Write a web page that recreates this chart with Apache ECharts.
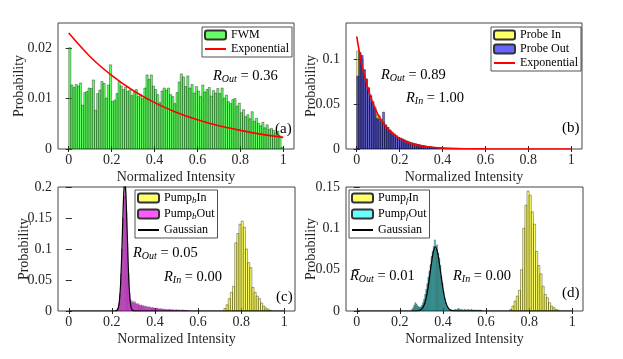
<!DOCTYPE html>
<html>
<head>
<meta charset="utf-8">
<script src="https://cdn.jsdelivr.net/npm/echarts@6/dist/echarts.min.js"></script>
<style>
    html, body { margin: 0; padding: 0; background: #fff; }
    #main { width: 623px; height: 359px; }
</style>
</head>
<body>
<div id="main"></div>
<script>
    var font = 'Liberation Serif';
    var ink = '#262626';

    // (a) FWM histogram, bins of 0.01 starting at 0
    var fwmStart = 0, fwmWidth = 0.01;
    var fwm = [0.0201,0.0127,0.0122,0.0128,0.0125,0.0131,0.0087,0.0112,0.0114,0.0121,
               0.0120,0.0137,0.0077,0.0110,0.0117,0.0134,0.0130,0.0101,0.0127,0.0167,
               0.0094,0.0097,0.0110,0.0134,0.0125,0.0118,0.0123,0.0114,0.0117,0.0106,
               0.0112,0.0118,0.0104,0.0108,0.0100,0.0121,0.0147,0.0138,0.0147,0.0125,
               0.0118,0.0108,0.0092,0.0115,0.0121,0.0117,0.0121,0.0108,0.0104,0.0090,
               0.0112,0.0133,0.0149,0.0143,0.0124,0.0145,0.0121,0.0128,0.0111,0.0124,
               0.0115,0.0104,0.0127,0.0113,0.0118,0.0122,0.0105,0.0116,0.0111,0.0120,
               0.0110,0.0121,0.0101,0.0107,0.0094,0.0090,0.0098,0.0100,0.0085,0.0091,
               0.0072,0.0078,0.0064,0.0068,0.0060,0.0074,0.0055,0.0061,0.0051,0.0046,
               0.0053,0.0042,0.0048,0.0039,0.0041,0.0037,0.0032,0.0035,0.0026,0.0003];
    var expAx = [0, 0.1, 0.2, 0.3, 0.4, 0.5, 0.6, 0.7, 0.8, 0.9, 1];
    var expAy = [0.0230,0.0183,0.0146,0.0116,0.0092,0.0073,0.0058,0.0046,0.0037,0.0029,0.0023];

    // (b) probe histograms, bins of 0.01 starting at 0
    var probeStart = 0, probeWidth = 0.01;
    var probeIn = [0.109,0.107,0.100,0.088,0.077,0.068,0.060,0.053,0.047,0.038,
                   0.037,0.033,0.030,0.026,0.024,0.021,0.019,0.017,0.015,0.013,
                   0.012,0.011,0.010,0.009,0.008,0.007,0.0065,0.006,0.005,0.0045,
                   0.004,0.0035,0.003,0.0027,0.0024,0.002,0.0018,0.0016,0.0014,0.0012,
                   0.001,0.0009,0.0008,0.0007,0.0006,0.0005,0.0004,0.0003,0.0002,0.0001];
    var probeOut = [0.081,0.107,0.104,0.088,0.078,0.068,0.059,0.052,0.045,0.034,
                    0.033,0.030,0.041,0.027,0.024,0.021,0.018,0.016,0.014,0.013,
                    0.012,0.011,0.0095,0.0085,0.0075,0.0068,0.006,0.0055,0.005,0.0045,
                    0.004,0.0035,0.003,0.0027,0.0024,0.002,0.0018,0.0016,0.0014,0.0012,
                    0.001,0.0009,0.0008,0.0007,0.0006,0.0005,0.0004,0.0003,0.0002,0.0001];
    var expBx = [0,0.02,0.04,0.06,0.08,0.1,0.12,0.15,0.2,0.25,0.3,0.35,0.4,0.5,0.6,0.8,1];
    var expBy = [0.125,0.098,0.078,0.061,0.048,0.038,0.030,0.021,0.0116,0.0063,0.0035,0.0019,0.0010,0.0003,0.0001,0,0];

    // (c) backward pump
    var pumpBInStart = 0.72, pumpBInWidth = 0.01;
    var pumpBIn = [0.004,0.010,0.020,0.030,0.040,0.110,0.125,0.140,0.145,0.135,
                   0.100,0.078,0.070,0.038,0.030,0.024,0.020,0.013,0.008,0.005,0.003,0.001];
    var pumpBOutStart = 0.22, pumpBOutWidth = 0.005;
    var pumpBOut = [0.002,0.005,0.012,0.028,0.060,0.100,0.150,0.185,0.200,0.160,
                    0.110,0.060,0.030,0.018,0.014,0.016,0.013,0.015,0.012,0.011,
                    0.012,0.010,0.009,0.010,0.008,0.009,0.007,0.008,0.007,0.006,
                    0.007,0.006,0.005,0.006,0.005,0.005,0.004,0.005,0.004,0.004,
                    0.003,0.004,0.003,0.003,0.003,0.002,0.003,0.002,0.002,0.003,
                    0.002,0.002,0.002,0.002,0.001,0.002,0.002,0.001,0.002,0.001,
                    0.001,0.002,0.001,0.001,0.001,0.001,0.001];
    var gaussCx = [0,0.2,0.22,0.225,0.23,0.235,0.24,0.245,0.25,0.255,0.26,0.265,0.27,0.275,0.28,0.285,0.29,0.295,0.3,0.32,1];
    var gaussCy = [0,0,0.0003,0.0013,0.0051,0.016,0.040,0.083,0.139,0.189,0.21,0.189,0.139,0.083,0.040,0.016,0.0051,0.0013,0.0003,0,0];

    // (d) forward pump
    var pumpFInStart = 0.71, pumpFInWidth = 0.01;
    var pumpFIn = [0.002,0.006,0.012,0.018,0.025,0.050,0.100,0.128,0.145,0.140,
                   0.120,0.105,0.072,0.055,0.045,0.030,0.020,0.016,0.010,0.006,0.004,0.002,0.001];
    var pumpFOutStart = 0.255, pumpFOutWidth = 0.005;
    var pumpFOut = [0.002,0.004,0.007,0.010,0.008,0.006,0.005,0.004,0.005,0.007,
                    0.010,0.014,0.020,0.026,0.033,0.041,0.048,0.056,0.066,0.072,
                    0.078,0.086,0.075,0.080,0.070,0.064,0.055,0.042,0.034,0.024,
                    0.016,0.010,0.006,0.004,0.002,0.001,0.001,0.001,0.001,0.001,
                    0.002,0.001,0.002,0.003,0.002,0.001,0.002,0.001,0.001,0.002,
                    0.001,0.001,0.002,0.001,0.001,0.002,0.001,0.001,0.001,0.001,
                    0.001,0.001,0.001,0.001,0.001];
    var gaussDx = [0,0.265,0.285,0.295,0.305,0.315,0.325,0.335,0.345,0.355,0.365,0.375,0.385,0.395,0.405,0.415,0.425,0.435,0.445,0.465,1];
    var gaussDy = [0,0,0.0003,0.0011,0.0034,0.0088,0.0193,0.0355,0.0548,0.071,0.0775,0.071,0.0548,0.0355,0.0193,0.0088,0.0034,0.0011,0.0003,0,0];

    var xTicks = [0, 0.2, 0.4, 0.6, 0.8, 1];
    var yTicksA = [0, 0.01, 0.02];
    var yTicksB = [0, 0.05, 0.1];
    var yTicksC = [0, 0.05, 0.1, 0.15, 0.2];
    var yTicksD = [0, 0.05, 0.1, 0.15];

    function bins(start, width, values) {
        return values.map(function (v, i) { return [start + i * width, v, width]; });
    }
    function pairs(xs, ys) {
        return xs.map(function (x, i) { return [x, ys[i]]; });
    }

    // rectangles drawn through the axis scales: [binStart, value, binWidth]
    function barRenderer(edge) {
        return function (params, api) {
            var p0 = api.coord([api.value(0), api.value(1)]);
            var p1 = api.coord([api.value(0) + api.value(2), 0]);
            return {
                type: 'rect',
                shape: { x: p0[0], y: p0[1], width: p1[0] - p0[0], height: p1[1] - p0[1] },
                style: { fill: api.visual('color'), stroke: edge, lineWidth: 0.5 }
            };
        };
    }

    function histSeries(name, g, data, color, edge) {
        return {
            name: name, type: 'custom', xAxisIndex: 2 * g, yAxisIndex: 2 * g,
            renderItem: barRenderer(edge || 'rgba(0,0,0,0.7)'), clip: true, encode: { x: 0, y: 1 },
            itemStyle: { color: color, borderColor: '#333', borderWidth: 0.8 },
            data: data, silent: true
        };
    }
    function lineSeries(name, g, data, color, width) {
        return {
            name: name, type: 'line', xAxisIndex: 2 * g, yAxisIndex: 2 * g,
            data: data, symbol: 'none', smooth: 0.3, clip: true, silent: true,
            lineStyle: { color: color, width: width }, itemStyle: { color: color }
        };
    }

    var tickStyle = { lineStyle: { color: ink, width: 1 } };
    var labelStyle = { fontFamily: font, fontSize: 14, color: ink };

    var xAxes = [], yAxes = [];
    function addAxes(g, ymax, yTicks, yNameGap) {
        xAxes.push({
            type: 'value', gridIndex: g, min: -0.05, max: 1.05,
            name: 'Normalized Intensity', nameLocation: 'middle', nameGap: 21, nameMoveOverlap: false,
            nameTextStyle: labelStyle,
            axisLine: { show: false }, splitLine: { show: false },
            axisTick: Object.assign({ inside: true, length: 3, customValues: xTicks }, tickStyle),
            axisLabel: Object.assign({ customValues: xTicks, margin: 4 }, labelStyle)
        });
        xAxes.push({
            type: 'value', gridIndex: g, min: -0.05, max: 1.05, position: 'top',
            axisLine: { show: false }, splitLine: { show: false }, axisLabel: { show: false },
            axisTick: Object.assign({ inside: true, length: 3, customValues: xTicks }, tickStyle)
        });
        yAxes.push({
            type: 'value', gridIndex: g, min: 0, max: ymax,
            name: 'Probability', nameLocation: 'middle', nameGap: yNameGap, nameMoveOverlap: false,
            nameTextStyle: labelStyle,
            axisLine: { show: false }, splitLine: { show: false },
            axisTick: Object.assign({ inside: true, length: 3, customValues: yTicks }, tickStyle),
            axisLabel: Object.assign({ customValues: yTicks, margin: 6 }, labelStyle)
        });
        yAxes.push({
            type: 'value', gridIndex: g, min: 0, max: ymax, position: 'right',
            axisLine: { show: false }, splitLine: { show: false }, axisLabel: { show: false },
            axisTick: Object.assign({ inside: true, length: 3, customValues: yTicks }, tickStyle)
        });
    }
    addAxes(0, 0.025, yTicksA, 32);
    addAxes(1, 0.14, yTicksB, 28);
    addAxes(2, 0.2, yTicksC, 27);
    addAxes(3, 0.15, yTicksD, 28);

    var gridStyle = { show: true, borderColor: '#444', borderWidth: 1, backgroundColor: 'transparent' };
    var grids = [
        Object.assign({ left: 58, top: 23, width: 236, height: 126 }, gridStyle),
        Object.assign({ left: 346, top: 23, width: 236, height: 126 }, gridStyle),
        Object.assign({ left: 58, top: 187, width: 237, height: 124 }, gridStyle),
        Object.assign({ left: 346, top: 187, width: 237, height: 124 }, gridStyle)
    ];

    var legendText = {
        fontFamily: font, fontSize: 12, color: '#000', lineHeight: 14,
        rich: {
            n: { fontFamily: font, fontSize: 12, color: '#000' },
            s: { fontFamily: font, fontSize: 9, fontStyle: 'italic', color: '#000', padding: [6, 0, 0, 0] }
        }
    };
    function legendFmt(name) {
        var m = name.match(/^Pump_(\w) (\w+)$/);
        if (!m) return name;
        return '{n|Pump}{s|' + m[1] + '}{n|' + m[2] + '}';
    }
    // line entries: hide the symbol, keep the stroke
    function lineItem(name) {
        return { name: name, itemStyle: { opacity: 0 } };
    }
    function legend(left, top, data, gap) {
        return {
            orient: 'vertical', left: left, top: top, data: data, selectedMode: false,
            itemWidth: 21, itemHeight: 9, itemGap: gap, padding: [1, 3, 1, 2],
            borderColor: ink, borderWidth: 0.8, backgroundColor: '#fff',
            textStyle: legendText, formatter: legendFmt
        };
    }

    function rText(x, y, sub, value) {
        return {
            type: 'text', x: x, y: y, z: 100,
            style: {
                text: '{r|R}{s|' + sub + '}{t| = ' + value + '}', verticalAlign: 'middle',
                rich: {
                    r: { fontFamily: font, fontSize: 14.5, fontStyle: 'italic', fill: '#000' },
                    s: { fontFamily: font, fontSize: 10, fontStyle: 'italic', fill: '#000', padding: [7, 0, 0, 0] },
                    t: { fontFamily: font, fontSize: 14.5, fill: '#000' }
                }
            }
        };
    }
    function tag(x, y, text) {
        return {
            type: 'text', x: x, y: y, z: 100,
            style: { text: text, fontFamily: font, fontSize: 15, fill: '#000', verticalAlign: 'middle' }
        };
    }

    var chart = echarts.init(document.getElementById('main'), null, { renderer: 'canvas' });
    chart.setOption({
        backgroundColor: '#fff',
        animation: false,
        grid: grids,
        xAxis: xAxes,
        yAxis: yAxes,
        legend: [
            legend(202, 27, ['FWM', lineItem('Exponential')], 0),
            legend(491, 27, ['Probe In', 'Probe Out', lineItem('Exponential')], 0),
            legend(135, 190, ['Pump_b In', 'Pump_b Out', lineItem('Gaussian')], 1.5),
            legend(349, 190, ['Pump_f In', 'Pump_f Out', lineItem('Gaussian')], 1.5)
        ],
        series: [
            histSeries('FWM', 0, bins(fwmStart, fwmWidth, fwm), 'rgba(0,255,0,0.6)'),
            lineSeries('Exponential', 0, pairs(expAx, expAy), '#ff0000', 1.6),
            histSeries('Probe In', 1, bins(probeStart, probeWidth, probeIn), 'rgba(255,255,0,0.6)'),
            histSeries('Probe Out', 1, bins(probeStart, probeWidth, probeOut), 'rgba(0,0,255,0.6)'),
            lineSeries('Exponential', 1, pairs(expBx, expBy), '#ff0000', 1.6),
            histSeries('Pump_b In', 2, bins(pumpBInStart, pumpBInWidth, pumpBIn), 'rgba(255,255,0,0.6)'),
            histSeries('Pump_b Out', 2, bins(pumpBOutStart, pumpBOutWidth, pumpBOut), 'rgba(255,0,255,0.65)', 'rgba(0,0,0,0.4)'),
            lineSeries('Gaussian', 2, pairs(gaussCx, gaussCy), '#000000', 1.2),
            histSeries('Pump_f In', 3, bins(pumpFInStart, pumpFInWidth, pumpFIn), 'rgba(255,255,0,0.6)'),
            histSeries('Pump_f Out', 3, bins(pumpFOutStart, pumpFOutWidth, pumpFOut), 'rgba(0,255,255,0.6)'),
            lineSeries('Gaussian', 3, pairs(gaussDx, gaussDy), '#000000', 1.2)
        ],
        graphic: [
            rText(213, 76, 'Out', '0.36'),
            tag(275, 129, '(a)'),
            rText(381, 75, 'Out', '0.89'),
            rText(406, 98, 'In', '1.00'),
            tag(562, 128, '(b)'),
            rText(133, 253, 'Out', '0.05'),
            rText(164, 277, 'In', '0.00'),
            tag(276, 297, '(c)'),
            rText(350, 276, 'Out', '0.01'),
            rText(453, 276, 'In', '0.00'),
            tag(562, 293, '(d)')
        ]
    });
</script>
</body>
</html>
